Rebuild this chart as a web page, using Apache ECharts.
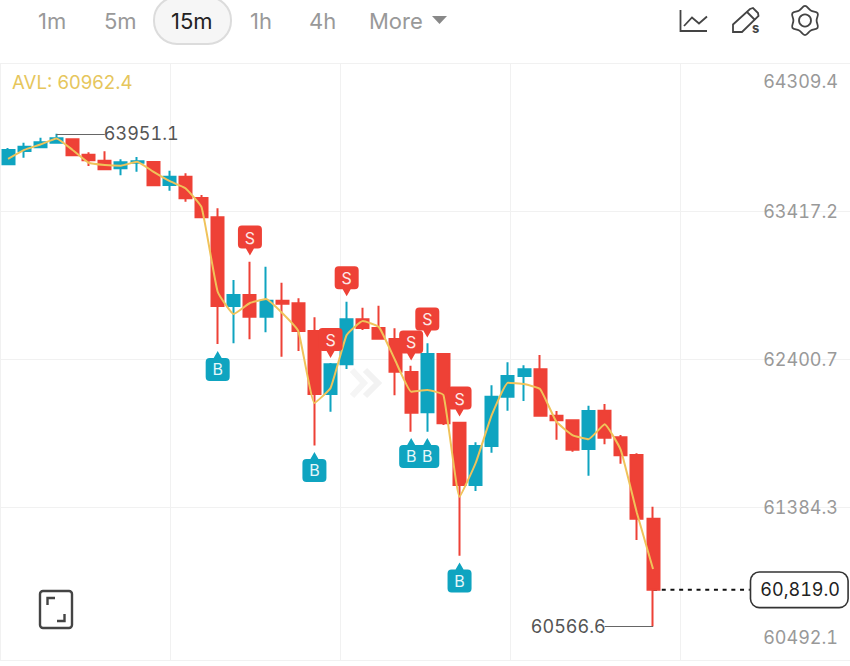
<!DOCTYPE html>
<html><head><meta charset="utf-8">
<style>html,body{margin:0;padding:0;background:#fff}#c{width:850px;height:666px}
svg text{font-variant-numeric:tabular-nums;font-feature-settings:"tnum" 1}</style>
<script src="https://cdn.jsdelivr.net/npm/echarts@6/dist/echarts.min.js"></script>
</head><body><div id="c"></div>
<script>
const categories = ['01','02','03','04','05','06','07','08','09','10','11','12','13','14','15','16','17','18','19','20','21','22','23','24','25','26','27','28','29','30','31','32','33','34','35','36','37','38','39','40','41','42','43','44','45','46','47','48','49','50','51','52','53'];
// open, close, low, high
const candles = [
[63741,63840,63737,63853],[63833,63862,63787,63890],[63858,63892,63858,63924],[63890,63920,63886,63951.1],
[63913,63803,63800,63916],[63807,63769,63730,63824],[63766,63707,63702,63831],[63714,63755,63666,63776],
[63752,63762,63691,63792],[63757,63597,63592,63760],[63599,63656,63560,63697],[63656,63508,63485,63680],
[63510,63377,63371,63531],[63377,62768,62507,63439],[62768,62844,62512,62947],[62844,62695,62540,63072],
[62695,62805,62588,63038],[62805,62784,62420,62928],[62787,62596,62459,62821],[62596,62164,61811,62691],
[62164,62368,62042,62377],[62368,62677,62335,62798],[62677,62617,62603,62756],[62617,62544,62541,62770],
[62541,62317,62155,62615],[62315,62035,61905,62358],[62038,62438,61905,62512],[62438,61963,61951,62440],
[61967,61539,61053,61970],[61539,61807,61498,61832],[61807,62145,61761,62224],[62145,62287,62049,62382],
[62287,62333,62116,62361],[62333,62015,62008,62432],[62015,61983,61850,62047],[61983,61781,61768,61985],
[61786,62047,61603,62084],[62049,61864,61818,62095],[61866,61743,61685,61882],[61745,61307,61161,61757],
[61307,60819,60566.6,61390]];
const avl = [63778,63840,63877,63919,63840,63752,63737,63732,63759,63691,63627,63577,63446,62866,62713,62789,62816,62720,62596,62102,62205,62569,62665,62624,62397,62180,62191,62157,61458,61690,62020,62241,62232,62198,61974,61882,61853,61956,61779,61347,60962.4];
const sellMarks = [[15,63218],[21,62938],[20,62514],[25,62497],[26,62655],[28,62112]];
const buyMarks = [[13,62356],[19,61662],[25,61759],[26,61759],[28,60903]];
const lastPrice = [[40,60819],[41,60819],[42,60819],[43,60819],[44,60819],[45,60819],[46,60819]];
const yLabels = [60492.1,61384.3,62400.7,63417.2,64309.4];
const yGrid = [60337,61384.3,62400.7,63417.2,64433.7];
const highPoint = 63951.1, lowPoint = 60566.6;
const avlLabel = 'AVL: 60962.4';
const tabs = [['1m',38],['5m',104],['15m',171],['1h',250],['4h',309],['More',369]];

const RED='#ee4136', TEAL='#0fa4c0', FONT='Inter, "Noto Sans", sans-serif';
const pinDown='path://M4 0H20Q24 0 24 4V19Q24 23 20 23H16L12 30L8 23H4Q0 23 0 19V4Q0 0 4 0Z';
const pinUp='path://M12 0L16 7H20Q24 7 24 11V26Q24 30 20 30H4Q0 30 0 26V11Q0 7 4 7H8Z';

function gear(cx,cy){const pts=[];for(let i=0;i<12;i++){const a=Math.PI*i/6-Math.PI/2;const r=i%2?11.6:14.6;pts.push([cx+r*Math.cos(a),cy+r*Math.sin(a)]);}return pts;}
const stroke={stroke:'#444',lineWidth:1.8,fill:null};
const graphic=[
 {type:'polyline',z:0,shape:{points:[[352,370],[364,383],[352,396]]},style:{stroke:'#f5f5f5',lineWidth:6,fill:null}},
 {type:'polyline',z:0,shape:{points:[[365,370],[378,383],[365,396]]},style:{stroke:'#f2f2f2',lineWidth:6,fill:null}},
 {type:'rect',shape:{x:154,y:-3,width:77,height:47,r:23},style:{fill:'#f6f6f6',stroke:'#dcdcdc',lineWidth:2}},
 ...tabs.map(([t,x])=>({type:'text',x:x,y:21,style:{text:t,font:'400 22px '+FONT,fill:t==='15m'?'#222':'#999',textVerticalAlign:'middle'}})),
 {type:'polygon',shape:{points:[[432,16],[447,16],[439.5,24]]},style:{fill:'#888'}},
 {type:'polyline',shape:{points:[[680.5,10],[680.5,31],[707,31]]},style:stroke},
 {type:'polyline',shape:{points:[[684,26],[692,17.5],[699,23.5],[707,16.5]]},style:stroke},
 {type:'polygon',shape:{points:[[733,32],[733,24.5],[750,9],[753,8],[758,13],[758.5,16],[742,32]]},style:stroke},
 {type:'line',shape:{x1:747,y1:12,x2:755,y2:20},style:stroke},
 {type:'text',x:752,y:28,style:{text:'s',font:'700 13px '+FONT,fill:'#444',textVerticalAlign:'middle'}},
 {type:'polygon',shape:{points:gear(805,20.5),smooth:0.4},style:stroke},
 {type:'circle',shape:{cx:805,cy:20.5,r:6},style:stroke},
 {type:'text',x:12,y:82,style:{text:avlLabel,font:'400 18.6px '+FONT,fill:'#e6c65c',textVerticalAlign:'middle'}},
 {type:'rect',shape:{x:40,y:591,width:32,height:37,r:3},style:{stroke:'#444',lineWidth:2.4,fill:null}},
 {type:'polyline',shape:{points:[[47.5,605],[47.5,598],[55,598]]},style:{stroke:'#444',lineWidth:2.4,fill:null}},
 {type:'polyline',shape:{points:[[57,621],[64.5,621],[64.5,614]]},style:{stroke:'#444',lineWidth:2.4,fill:null}},
];

const chart=echarts.init(document.getElementById('c'),null,{renderer:'svg'});
chart.setOption({
 animation:false,backgroundColor:'#fff',graphic:graphic,
 grid:{left:0,top:63.5,width:854.6,height:596.5,containLabel:false,outerBoundsMode:'none'},
 xAxis:[
  {type:'category',data:categories,boundaryGap:true,axisLine:{show:false},axisTick:{show:false},axisLabel:{show:false},splitLine:{show:false}},
  {type:'value',min:0,max:854.6,interval:170,position:'top',axisLine:{show:false},axisTick:{show:false},axisLabel:{show:false},splitLine:{show:true,lineStyle:{color:'#f1f1f1',width:1}}}
 ],
 yAxis:{type:'value',position:'right',min:60337,max:64433.7,scale:true,axisLine:{show:false},
  axisTick:{show:false,customValues:yGrid},
  splitLine:{show:true,lineStyle:{color:'#f1f1f1',width:1}},
  axisLabel:{inside:true,margin:16.6,customValues:yLabels,color:'#999',fontFamily:FONT,fontSize:18,formatter:v=>v.toFixed(1)}},
 series:[
  {name:'last',type:'line',z:1,data:lastPrice,showSymbol:false,symbol:'none',lineStyle:{color:'#111',width:2,type:[4,4.7]},
   markPoint:{symbol:'rect',symbolSize:1,itemStyle:{color:'transparent'},data:[{coord:[46,60819],value:60819}],
    label:{show:true,position:'right',distance:1,formatter:'60,819.0',color:'#222',fontFamily:FONT,fontSize:18,backgroundColor:'#fff',borderColor:'#333',borderWidth:1.6,borderRadius:8,width:87,height:34,lineHeight:34,align:'left',verticalAlign:'middle',padding:[0,0,0,9]}}},
  {name:'price',type:'candlestick',z:2,data:candles,barWidth:12.5,
   itemStyle:{color:TEAL,color0:RED,borderColor:TEAL,borderColor0:RED,borderWidth:2},
   markLine:{silent:true,symbol:'none',precision:1,lineStyle:{color:'#666',width:1,type:'solid'},
    label:{show:true,position:'end',distance:-1,color:'#555',fontFamily:FONT,fontSize:18},
    data:[
     [{coord:[3,highPoint],label:{formatter:String(highPoint)}},{coord:[6,highPoint]}],
     [{coord:[40,lowPoint],label:{formatter:String(lowPoint)}},{coord:[37,lowPoint]}]
    ]}},
  {name:'AVL',type:'line',z:3,data:avl,smooth:0.12,showSymbol:false,symbol:'none',lineStyle:{color:'#f0c35a',width:2}},
  {name:'S',type:'scatter',z:4,data:sellMarks,symbol:pinDown,symbolSize:[24,30],itemStyle:{color:RED,opacity:1},
   label:{show:true,formatter:'S',color:'#fde8e6',fontFamily:FONT,fontSize:16,position:'inside',offset:[0,-3]}},
  {name:'B',type:'scatter',z:4,data:buyMarks,symbol:pinUp,symbolSize:[24,30],itemStyle:{color:TEAL,opacity:1},
   label:{show:true,formatter:'B',color:'#e6f7fa',fontFamily:FONT,fontSize:16,position:'inside',offset:[0,3]}}
 ]
});
</script></body></html>
